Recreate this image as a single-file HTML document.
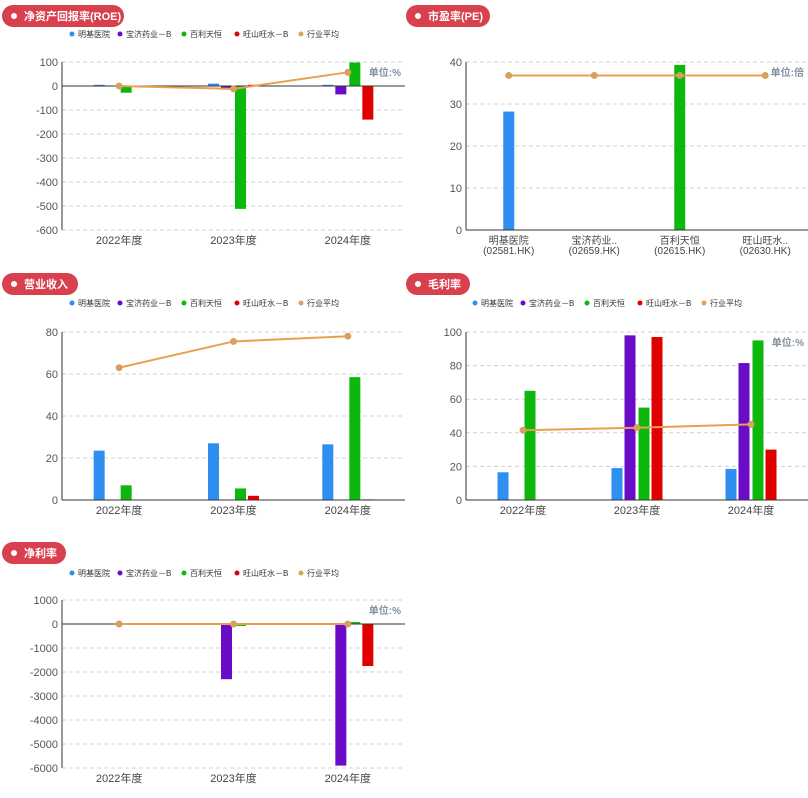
<!DOCTYPE html>
<html><head><meta charset="utf-8"><style>
body{margin:0;width:808px;height:798px;background:#fff;overflow:hidden;font-family:"Liberation Sans","Noto Sans CJK SC",sans-serif}
svg{position:absolute;left:0;top:0}
</style></head><body>
<svg id="s" width="808" height="798"></svg>
<script>
const years=["2022年度","2023年度","2024年度"];
const seriesNames=["明基医院","宝济药业－B","百利天恒","旺山旺水－B","行业平均"];
const colors=["#2e8ff0","#6a0bc8","#0db80d","#e00000","#e0a060"];
const roeBlue=[5,10,5], roePurple=[0,-15,-35], roeGreen=[-28,-512,98], roeRed=[0,5,-140], roeAvg=[0,-12,57];
const revBlue=[23.5,27,26.5], revPurple=[0,0,0], revGreen=[7,5.5,58.5], revRed=[0,2,0.3], revAvg=[63,75.5,78];
const gmBlue=[16.5,19,18.5], gmPurple=[0,98,81.5], gmGreen=[65,55,95], gmRed=[0,97,30], gmAvg=[41.5,43,45];
const nmBlue=[0,0,0], nmPurple=[0,-2300,-5900], nmGreen=[0,-80,80], nmRed=[0,0,-1750], nmAvg=[0,0,0];
const peCats=["明基医院|(02581.HK)","宝济药业..|(02659.HK)","百利天恒|(02615.HK)","旺山旺水..|(02630.HK)"];
const peVals=[28.2,0,39.3,0];
const peAvg=[36.8,36.8,36.8,36.8];
const roeTicks=[100,0,-100,-200,-300,-400,-500,-600];
const revTicks=[80,60,40,20,0];
const gmTicks=[100,80,60,40,20,0];
const nmTicks=[1000,0,-1000,-2000,-3000,-4000,-5000,-6000];
const peTicks=[40,30,20,10,0];

const S=document.getElementById('s');const NS="http://www.w3.org/2000/svg";
function el(t,a,txt){const e=document.createElementNS(NS,t);for(const k in a)e.setAttribute(k,a[k]);if(txt!=null)e.textContent=txt;S.appendChild(e);return e;}

function pill(x,y,w,label){
 const g=el('rect',{x:x,y:y,width:w,height:22,rx:11,fill:'#d8404e'});
 
 const d=el('circle',{cx:x+12,cy:y+11,r:3,fill:'#fff'});
 
 const t=el('text',{x:x+22,y:y+15,fill:'#fff','font-size':11,'font-weight':'bold'},label);
 
}
function legend(x,y){
 const off=[0,48,112,165,229];
 seriesNames.forEach((n,i)=>{
  const c=el('circle',{cx:x+off[i],cy:y,r:2.5,fill:colors[i]});
  
  const t=el('text',{x:x+off[i]+6,y:y+3,'font-size':8,fill:'#333'},n);
  
 });
}
function chart(o){
 const {x0,x1,y0,y1,ticks,cats,series,avg,unit}=o;
 const max=ticks[0],min=ticks[ticks.length-1];
 const Y=v=>y0+(max-v)/(max-min)*(y1-y0);
 const band=(x1-x0)/cats.length;const X=i=>x0+band*(i+0.5);
 ticks.forEach(t=>{
  if(t!==0||min===0){}
  const g=el('line',{x1:x0,x2:x1,y1:Y(t),y2:Y(t),stroke:'#d0d0d0','stroke-dasharray':'4,3'});
  
  const l=el('text',{x:x0-4,y:Y(t)+4,'text-anchor':'end','font-size':11,fill:'#555'},String(t));
  
 });
 const ya=el('line',{x1:x0,x2:x0,y1:y0,y2:y1,stroke:'#333'});
 
 cats.forEach((c,i)=>{
  const parts=c.split('|');
  parts.forEach((p,j)=>{
   const t=el('text',{x:X(i),y:y1+14+j*10,'text-anchor':'middle','font-size':parts.length>1?10:11,fill:'#444'},p);
   
  });
 });
 series.forEach(s=>{
  s.vals.forEach((v,i)=>{
   if(!v)return;
   const cx=X(i)+s.off;const a=Y(v),b=Y(0);
   const r=el('rect',{x:cx-5.5,y:Math.min(a,b),width:11,height:Math.max(Math.abs(a-b),0.8),fill:Array.isArray(s.color)?s.color[i]:s.color});
   
  });
 });
 const xa=el('line',{x1:x0,x2:x1,y1:Y(0),y2:Y(0),stroke:'#333'});
 
 const pts=avg.map((v,i)=>X(i)+','+Y(v)).join(' ');
 const pl=el('polyline',{points:pts,fill:'none',stroke:'#e8a050','stroke-width':2});
 
 avg.forEach((v,i)=>{
  const c=el('circle',{cx:X(i),cy:Y(v),r:3.5,fill:'#d8a060'});
  
 });
 if(unit){const u=el('text',{x:x1-4,y:y0+14,'text-anchor':'end','font-size':10,'font-weight':'bold',fill:'#8090a0'},unit);
  }
}
const offs=[-20,-7,7,20];
function grp(b,p,g,r){return [{name:'mingji',vals:b,color:colors[0],off:offs[0]},{name:'baoji',vals:p,color:colors[1],off:offs[1]},{name:'baili',vals:g,color:colors[2],off:offs[2]},{name:'wangshan',vals:r,color:colors[3],off:offs[3]}];}

pill(2,5,122,'净资产回报率(ROE)');legend(72,34);
chart({x0:62,x1:405,y0:62,y1:230,ticks:roeTicks,cats:years,series:grp(roeBlue,roePurple,roeGreen,roeRed),avg:roeAvg,unit:'单位:%'});
pill(406,5,84,'市盈率(PE)');
chart({x0:466,x1:808,y0:62,y1:230,ticks:peTicks,cats:peCats,series:[{name:'pe',vals:peVals,color:[colors[0],colors[1],colors[2],colors[3]],off:0}],avg:peAvg,unit:'单位:倍'});
pill(2,273,76,'营业收入');legend(72,303);
chart({x0:62,x1:405,y0:332,y1:500,ticks:revTicks,cats:years,series:grp(revBlue,revPurple,revGreen,revRed),avg:revAvg});
pill(406,273,64,'毛利率');legend(475,303);
chart({x0:466,x1:808,y0:332,y1:500,ticks:gmTicks,cats:years,series:grp(gmBlue,gmPurple,gmGreen,gmRed),avg:gmAvg,unit:'单位:%'});
pill(2,542,64,'净利率');legend(72,573);
chart({x0:62,x1:405,y0:600,y1:768,ticks:nmTicks,cats:years,series:grp(nmBlue,nmPurple,nmGreen,nmRed),avg:nmAvg,unit:'单位:%'});
</script>
</body></html>
